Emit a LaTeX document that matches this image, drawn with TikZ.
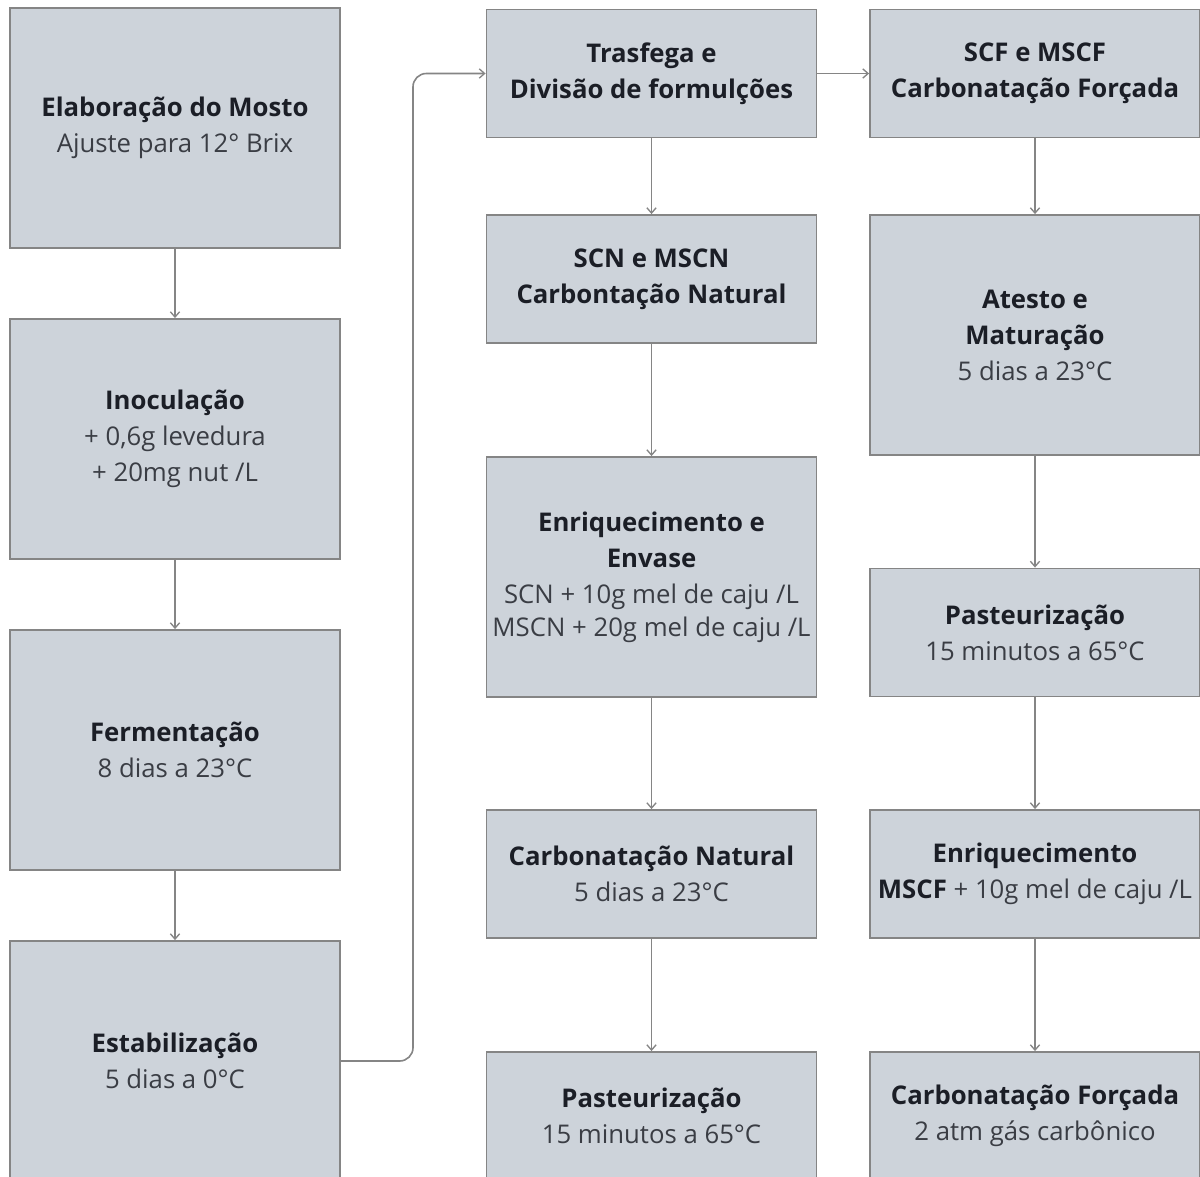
\documentclass[tikz,border=0pt]{standalone}
\usepackage{fontspec}
\setmainfont{Open Sans}
\usetikzlibrary{arrows.meta}
\definecolor{boxfill}{HTML}{CDD3DA}
\definecolor{boxline}{HTML}{858585}
\definecolor{titlecol}{HTML}{1B1E26}
\definecolor{textcol}{HTML}{3A3D44}
\newcommand{\tb}[1]{{\color{titlecol}\bfseries #1}}
\begin{document}
\begin{tikzpicture}[x=0.75pt,y=-0.75pt,
  box/.style={draw=boxline, fill=boxfill, line width=1.4pt, inner sep=0pt,
    minimum width=247.5pt, align=center, text=textcol,
    font=\fontsize{19.3}{27}\selectfont},
  tall/.style={box, minimum height=180pt},
  short/.style={box, minimum height=96pt},
  conn/.style={draw=boxline, line width=1.2pt,
    -{Straight Barb[length=4pt,width=7pt,line width=1pt]}}]
\useasboundingbox (0,0) rectangle (1200,1177);
\clip (0,0) rectangle (1200,1177);
\fill[white] (0,0) rectangle (1200,1177);
% column 1
\node[tall] (m1) at (175,128) {\tb{Elaboração do Mosto}\\Ajuste para 12° Brix};
\node[tall] (m2) at (175,439) {\tb{Inoculação}\\+ 0,6g levedura\\+ 20mg nut /L};
\node[tall] (m3) at (175,750) {\tb{Fermentação}\\8 dias a 23°C};
\node[tall] (m4) at (175,1061) {\tb{Estabilização}\\5 dias a 0°C};
% column 2
\node[short] (n1) at (651.5,73.5) {\tb{Trasfega e}\\\tb{Divisão de formulções}};
\node[short] (n2) at (651.5,279) {\tb{SCN e MSCN}\\\tb{Carbontação Natural}};
\node[tall] (n3) at (651.5,577) {\tb{Enriquecimento e}\\\tb{Envase}\\SCN + 10g mel de caju /L\\[-2pt]MSCN + 20g mel de caju /L};
\node[short] (n4) at (651.5,874) {\tb{Carbonatação Natural}\\5 dias a 23°C};
\node[short] (n5) at (651.5,1116) {\tb{Pasteurização}\\15 minutos a 65°C};
% column 3
\node[short] (f1) at (1035,73.5) {\tb{SCF e MSCF}\\\tb{Carbonatação Forçada}};
\node[tall] (f2) at (1035,335) {\tb{Atesto e}\\\tb{Maturação}\\5 dias a 23°C};
\node[short] (f3) at (1035,632.5) {\tb{Pasteurização}\\15 minutos a 65°C};
\node[short] (f4) at (1035,874) {\tb{Enriquecimento}\\\tb{MSCF} + 10g mel de caju /L};
\node[short] (f5) at (1035,1116) {\tb{Carbonatação Forçada}\\2 atm gás carbônico};
% connectors
\draw[conn] (m1.south) -- (m2.north);
\draw[conn] (m2.south) -- (m3.north);
\draw[conn] (m3.south) -- (m4.north);
\coordinate (bend) at (413,0);
\draw[conn, rounded corners=10pt] (m4.east) -- (m4.east -| bend) -- (bend |- n1.west) -- (n1.west);
\draw[conn] (n1.east) -- (f1.west);
\draw[conn] (n1.south) -- (n2.north);
\draw[conn] (n2.south) -- (n3.north);
\draw[conn] (n3.south) -- (n4.north);
\draw[conn] (n4.south) -- (n5.north);
\draw[conn] (f1.south) -- (f2.north);
\draw[conn] (f2.south) -- (f3.north);
\draw[conn] (f3.south) -- (f4.north);
\draw[conn] (f4.south) -- (f5.north);
\end{tikzpicture}
\end{document}
